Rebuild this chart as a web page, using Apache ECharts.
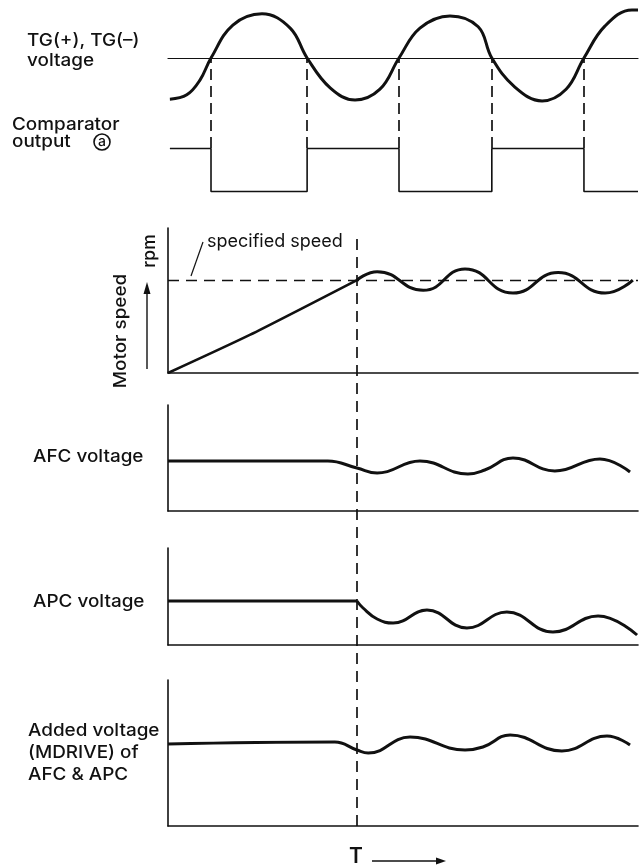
<!DOCTYPE html>
<html>
<head>
<meta charset="utf-8">
<script src="https://cdn.jsdelivr.net/npm/echarts@6/dist/echarts.min.js"></script>
<style>
  html, body { margin: 0; padding: 0; background: #fff; }
  #chart { width: 644px; height: 866px; }
</style>
</head>
<body>
<div id="chart"></div>
<script>
// time runs 0..100 across every panel
const tgVoltage = [[0.4, -0.95], [4.0, -0.85], [6.8, -0.51], [9.15, 0], [13.8, 0.76], [20.0, 1.02], [26.0, 0.69], [29.6, 0], [34.5, -0.69], [39.8, -0.97], [45.1, -0.72], [49.15, 0], [53.6, 0.69], [60.0, 0.97], [66.0, 0.72], [68.9, 0], [73.8, -0.67], [79.6, -0.99], [84.7, -0.72], [88.5, 0], [93.0, 0.74], [98.7, 1.11], [100, 1.11]];
const comparatorOut = [[0.4, 1], [9.15, 0], [29.6, 1], [49.15, 0], [68.9, 1], [88.5, 0], [100, 0]];
const crossings = [9.15, 29.6, 49.15, 68.9, 88.5];
const lockTime = 40.2;

const specifiedSpeed = 1;
const speedRamp = [[0, 0], [17.4, 0.41], [40.2, 1]];
const speedRipple = [[40.2, 1], [44.5, 1.09], [54.3, 0.89], [63.2, 1.12], [73.4, 0.86], [83.0, 1.08], [93.0, 0.86], [98.9, 1.0]];

const afcVoltage = [[0, 5.0], [34.0, 5.0], [40.2, 4.3], [44.5, 3.8], [53.6, 5.0], [63.8, 3.7], [67.4, 4.1], [73.4, 5.3], [82.3, 4.0], [91.9, 5.2], [98.3, 3.9]];
const apcFlat = [[0, 4.4], [40.2, 4.4]];
const apcRipple = [[40.2, 4.4], [41.5, 3.7], [44.5, 2.6], [47.9, 2.2], [55.1, 3.5], [63.6, 1.7], [72.1, 3.3], [81.9, 1.3], [91.5, 2.9], [99.8, 1.0]];
const addedVoltage = [[0, 8.2], [35.5, 8.4], [40.2, 7.6], [42.6, 7.3], [51.5, 8.9], [63.2, 7.6], [67.0, 7.9], [72.8, 9.1], [83.8, 7.5], [93.4, 9.0], [98.3, 8.1]];

var chart = echarts.init(document.getElementById("chart"));
const ink = "#111";
const face = 'Inter, "Liberation Sans", Arial, sans-serif';
const font = "500 17.5px " + face;
const stretch = 1.08;

// panel boxes (px): tg, comparator, drop lines, motor, afc, apc, added, lock marker
const boxes = [
  { top: 6, height: 104, min: -1.2, max: 1.2 },
  { top: 140, height: 60, min: -0.2, max: 1.2 },
  { top: 58, height: 90, min: 0, max: 1 },
  { top: 228, height: 145, min: 0, max: 1.56 },
  { top: 405, height: 106, min: 0, max: 10.6 },
  { top: 548, height: 97, min: 0, max: 9.7 },
  { top: 680, height: 146, min: 0, max: 14.6 },
  { top: 233, height: 593, min: 0, max: 1 },
];
const framed = [3, 4, 5, 6];

const hidden = { show: false };
var grids = boxes.map((b) => ({ left: 168, width: 470, top: b.top, height: b.height }));
var xAxes = boxes.map((b, i) => ({
  type: "value",
  gridIndex: i,
  min: 0,
  max: 100,
  axisLabel: hidden,
  axisTick: hidden,
  splitLine: hidden,
  axisLine: {
    show: i === 0 || framed.includes(i),
    onZero: true,
    lineStyle: { color: ink, width: i === 0 ? 1.2 : 1.6 },
  },
}));
var yAxes = boxes.map((b, i) => ({
  type: "value",
  gridIndex: i,
  min: b.min,
  max: b.max,
  axisLabel: hidden,
  axisTick: hidden,
  splitLine: hidden,
  axisLine: { show: framed.includes(i), lineStyle: { color: ink, width: 1.6 } },
}));

function curve(data, idx, width, smooth) {
  return {
    type: "line",
    xAxisIndex: idx,
    yAxisIndex: idx,
    data: data,
    smooth: smooth,
    showSymbol: false,
    lineStyle: { color: ink, width: width },
  };
}

var series = [
  curve(tgVoltage, 0, 3, 0.4),
  Object.assign(curve(comparatorOut, 1, 1.6, false), { step: "end" }),
  {
    type: "lines",
    coordinateSystem: "cartesian2d",
    xAxisIndex: 2,
    yAxisIndex: 2,
    data: crossings.map((t) => ({ coords: [[t, 0], [t, 1]] })),
    lineStyle: { color: ink, width: 1.7, type: [11, 6], opacity: 1 },
  },
  Object.assign(curve(speedRamp, 3, 2.6, 0.2), {
    markLine: {
      silent: true,
      symbol: "none",
      label: hidden,
      lineStyle: { color: ink, width: 1.4, type: [11, 7] },
      data: [{ yAxis: specifiedSpeed }],
    },
  }),
  curve(speedRipple, 3, 3, 0.5),
  curve(afcVoltage, 4, 3, 0.45),
  curve(apcFlat, 5, 3, false),
  curve(apcRipple, 5, 3, 0.45),
  curve(addedVoltage, 6, 3, 0.45),
  {
    type: "lines",
    coordinateSystem: "cartesian2d",
    xAxisIndex: 7,
    yAxisIndex: 7,
    data: [{ coords: [[lockTime, 0], [lockTime, 1]] }],
    lineStyle: { color: ink, width: 1.7, type: [11, 7], opacity: 1 },
  },
];

function label(text, x, y, extra) {
  return Object.assign({
    type: "text",
    x: x,
    y: y,
    scaleX: stretch,
    style: { text: text, x: 0, y: 0, font: font, fill: ink, textAlign: "left", textVerticalAlign: "middle" },
  }, extra || {});
}

var graphics = [
  label("TG(+), TG(\u2013)", 27, 41),
  label("voltage", 27, 61),
  label("Comparator", 12, 125),
  label("output", 12, 142),
  { type: "circle", shape: { cx: 102, cy: 142, r: 8 }, style: { fill: "none", stroke: ink, lineWidth: 1.6 } },
  { type: "text", style: { text: "a", x: 102, y: 141.5, font: "500 14px " + face, fill: ink, textAlign: "center", textVerticalAlign: "middle" } },
  { type: "text", style: { text: "specified speed", x: 207, y: 242, font: "18px " + face, fill: ink, textAlign: "left", textVerticalAlign: "middle" } },
  { type: "line", shape: { x1: 203, y1: 242, x2: 191, y2: 276 }, style: { stroke: ink, lineWidth: 1.2 } },
  { type: "text", x: 150, y: 251, rotation: Math.PI / 2, style: { text: "rpm", x: 0, y: 0, font: font, fill: ink, textAlign: "center", textVerticalAlign: "middle" } },
  label("Motor speed", 121, 331, { rotation: Math.PI / 2, style: { text: "Motor speed", x: 0, y: 0, font: font, fill: ink, textAlign: "center", textVerticalAlign: "middle" } }),
  { type: "line", shape: { x1: 147, y1: 369, x2: 147, y2: 292 }, style: { stroke: ink, lineWidth: 1.4 } },
  { type: "polygon", shape: { points: [[147, 282], [143.5, 294], [150.5, 294]] }, style: { fill: ink } },
  label("AFC voltage", 33, 457),
  label("APC voltage", 33, 602),
  label("Added voltage", 28, 731),
  label("(MDRIVE) of", 28, 753),
  label("AFC & APC", 28, 775),
  { type: "text", style: { text: "T", x: 356, y: 857, font: "600 21px " + face, fill: ink, textAlign: "center", textVerticalAlign: "middle" } },
  { type: "line", shape: { x1: 372, y1: 861, x2: 438, y2: 861 }, style: { stroke: ink, lineWidth: 1.4 } },
  { type: "polygon", shape: { points: [[446, 861], [436, 857.5], [436, 864.5]] }, style: { fill: ink } },
];

var option = {
  backgroundColor: "#fff",
  animation: false,
  grid: grids,
  xAxis: xAxes,
  yAxis: yAxes,
  series: series,
  graphic: graphics,
};
option && chart.setOption(option);
</script>
</body>
</html>
